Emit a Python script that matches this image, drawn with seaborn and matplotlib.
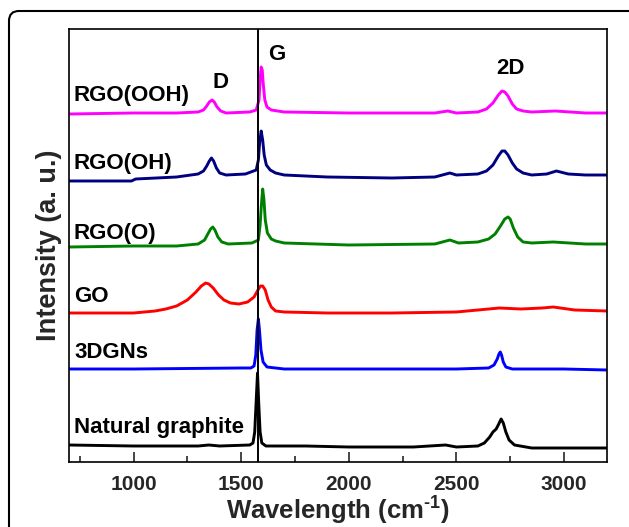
import numpy as np
import pandas as pd
import matplotlib
matplotlib.use("Agg")
import matplotlib.pyplot as plt
import seaborn as sns
from matplotlib.patches import FancyBboxPatch
from matplotlib.ticker import MultipleLocator

# ---- data (wavenumber, stacked intensity in a.u.) ----
ooh_x = [700, 1000, 1200, 1300, 1325, 1340, 1352, 1365, 1375, 1388, 1405, 1430, 1540, 1570, 1583, 1588, 1593,
         1598, 1603, 1610, 1620, 1640, 1700, 2000, 2400, 2460, 2500, 2600, 2640, 2670, 2695, 2712, 2725, 2740,
         2760, 2780, 2810, 2850, 2960, 3100, 3200]
ooh_y = [348, 349, 349, 350, 352, 356, 360, 362, 360, 355, 351, 349, 350, 352, 362, 382, 395,
         392, 377, 362, 355, 352, 350, 349, 349, 351, 349, 350, 353, 359, 367, 371, 370, 366,
         358, 353, 351, 350, 351, 349, 349]

oh_x = [700, 990, 1010, 1200, 1300, 1325, 1340, 1352, 1362, 1372, 1385, 1400, 1430, 1520, 1570, 1580, 1586,
        1593, 1600, 1607, 1617, 1635, 1660, 1700, 1900, 2200, 2400, 2470, 2500, 2600, 2640, 2670, 2695, 2712,
        2725, 2740, 2760, 2780, 2810, 2850, 2920, 2965, 3020, 3100, 3200]
oh_y = [281, 281, 283, 285, 288, 291, 296, 301, 304, 301, 294, 289, 287, 288, 292, 302, 320,
        331, 322, 307, 297, 292, 289, 287, 285, 284, 285, 289, 287, 288, 291, 297, 306, 311,
        311, 307, 299, 293, 289, 287, 288, 291, 288, 287, 287]

o_x = [700, 1000, 1200, 1300, 1330, 1345, 1358, 1368, 1378, 1392, 1410, 1440, 1550, 1580, 1588, 1594, 1600,
       1606, 1612, 1622, 1640, 1660, 1700, 2000, 2400, 2470, 2510, 2600, 2650, 2680, 2705, 2725, 2740, 2750,
       2765, 2785, 2810, 2850, 2950, 3100, 3200]
o_y = [215, 216, 216, 218, 222, 228, 233, 235, 232, 225, 220, 218, 219, 222, 237, 257, 273,
       262, 242, 229, 223, 221, 219, 217, 218, 222, 219, 220, 223, 228, 236, 243, 245, 243,
       234, 225, 220, 219, 220, 218, 218]

go_x = [700, 900, 1000, 1100, 1150, 1200, 1250, 1290, 1315, 1335, 1350, 1370, 1395, 1420, 1450, 1490, 1530,
        1560, 1578, 1590, 1600, 1612, 1625, 1640, 1660, 1700, 1900, 2200, 2500, 2600, 2700, 2800, 2900,
        2950, 3050, 3200]
go_y = [149, 149, 149, 151, 153, 156, 162, 170, 176, 179, 178, 174, 167, 162, 159, 158, 160,
        165, 172, 176, 176, 172, 162, 155, 151, 150, 149, 149, 150, 152, 154, 153, 154,
        155, 152, 151]

dg_x = [700, 1000, 1500, 1545, 1560, 1568, 1574, 1580, 1585, 1592, 1602, 1620, 1700, 2000, 2500, 2650, 2675,
        2690, 2698, 2704, 2710, 2718, 2730, 2760, 3000, 3200]
dg_y = [93, 93, 94, 94, 96, 107, 132, 143, 132, 112, 100, 95, 93, 93, 93, 94, 97,
        103, 108, 110, 107, 100, 95, 93, 93, 92]

ng_x = [700, 1000, 1300, 1350, 1400, 1540, 1555, 1563, 1569, 1576, 1582, 1588, 1596, 1615, 1800, 2000, 2300,
        2450, 2500, 2600, 2630, 2655, 2670, 2685, 2697, 2708, 2718, 2730, 2745, 2770, 2850, 3200]
ng_y = [17, 16, 16, 17, 16, 17, 19, 30, 57, 89, 57, 30, 19, 16, 16, 15, 15,
        17, 15, 16, 19, 25, 30, 33, 38, 43, 39, 30, 22, 17, 14, 14]

names = ["RGO(OOH)", "RGO(OH)", "RGO(O)", "GO", "3DGNs", "Natural graphite"]
colors = ["#FF00FF", "#000080", "#008000", "#FF0000", "#0000FF", "#000000"]
label_y = [367, 299, 229, 165, 109, 35]
peak_labels = ["D", "G", "2D"]
peak_label_x = [1406, 1666, 2749]
peak_label_y = [379, 407, 394]
g_line_x = 1578
xticks = [1000, 1500, 2000, 2500, 3000]

series = [(ooh_x, ooh_y), (oh_x, oh_y), (o_x, o_y), (go_x, go_y), (dg_x, dg_y), (ng_x, ng_y)]
frames = []
for n, (xs, ys) in zip(names, series):
    frames.append(pd.DataFrame({"wn": xs, "I": ys, "sample": n}))
df = pd.concat(frames, ignore_index=True)

sns.set_style("white")
plt.rcParams["font.family"] = ["Liberation Sans", "DejaVu Sans"]
plt.rcParams["font.weight"] = "bold"
plt.rcParams["mathtext.fontset"] = "custom"
plt.rcParams["mathtext.bf"] = "Liberation Sans:bold"
plt.rcParams["mathtext.rm"] = "Liberation Sans:bold"

fig = plt.figure(figsize=(6.29, 5.27), dpi=100)
ax = fig.add_axes([69 / 629, 1 - 462 / 527, 538 / 629, 433 / 527])

# outer rounded frame
frame = FancyBboxPatch((0.09, -0.3), 6.6, 5.16 + 0.3, boxstyle="round,pad=0,rounding_size=0.1",
                       transform=fig.dpi_scale_trans, fill=False, edgecolor="black", linewidth=1.5)
fig.patches.append(frame)

sns.lineplot(data=df, x="wn", y="I", hue="sample", palette=dict(zip(names, colors)),
             sort=False, estimator=None, linewidth=2.1, legend=False, ax=ax)

ax.axvline(g_line_x, color="black", linewidth=1.4)

for n, ly in zip(names, label_y):
    ax.text(723, ly, n, ha="left", va="center", fontsize=16, fontweight="bold", color="black")
for t, px, py in zip(peak_labels, peak_label_x, peak_label_y):
    ax.text(px, py, t, ha="center", va="center", fontsize=16, fontweight="bold", color="black")

ax.set_xlim(700, 3200)
ax.set_ylim(0, 433)
ax.set_xticks(xticks)
ax.xaxis.set_minor_locator(MultipleLocator(250))
ax.set_yticks([])
ax.tick_params(axis="x", which="major", direction="in", length=7, width=1.2, labelsize=15, pad=9)
ax.tick_params(axis="x", which="minor", direction="in", length=4, width=1.2)
ax.tick_params(axis="x", which="both", bottom=True, top=False)
for lab in ax.get_xticklabels():
    lab.set_fontweight("bold")
for s in ax.spines.values():
    s.set_linewidth(1.2)
    s.set_color("black")

ax.set_xlabel(r"Wavelength (cm$^{\text{-1}}$)", fontsize=18.5, fontweight="bold", labelpad=0)
ax.set_ylabel("Intensity (a. u.)", fontsize=19.5, fontweight="bold")
ax.yaxis.set_label_coords(-0.013, 0.5)

fig.savefig("out.png", dpi=100)
